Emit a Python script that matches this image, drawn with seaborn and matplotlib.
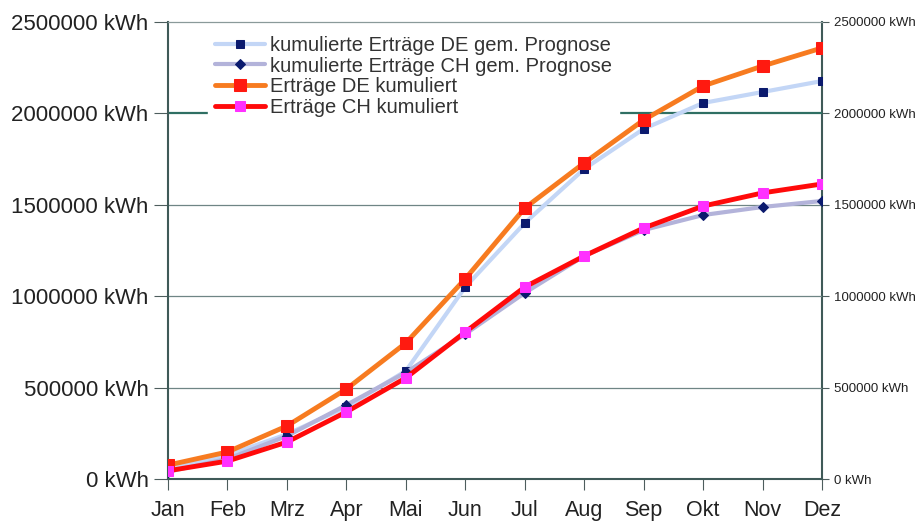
import pandas as pd
import matplotlib
matplotlib.use("Agg")
import matplotlib.pyplot as plt
import seaborn as sns

months = ['Jan', 'Feb', 'Mrz', 'Apr', 'Mai', 'Jun', 'Jul', 'Aug', 'Sep', 'Okt', 'Nov', 'Dez']

de_prognose = [60000, 130000, 245000, 394000, 591000, 1050000, 1400000, 1696000, 1915000, 2057000, 2117000, 2177000]
ch_prognose = [40000, 110000, 235000, 405000, 583000, 793000, 1018000, 1220000, 1362000, 1444000, 1488000, 1521000]
de_ertrag = [76000, 148000, 290000, 492000, 744000, 1095000, 1482000, 1729000, 1964000, 2150000, 2259000, 2358000]
ch_ertrag = [45000, 98000, 202000, 367000, 553000, 804000, 1050000, 1220000, 1373000, 1493000, 1565000, 1614000]

yticks = [0, 500000, 1000000, 1500000, 2000000, 2500000]
ylabels = [f'{v} kWh' for v in yticks]

df = pd.DataFrame({'Monat': months, 'de_prog': de_prognose, 'ch_prog': ch_prognose,
                   'de': de_ertrag, 'ch': ch_ertrag})

sns.set_style('white')
plt.rcParams['font.family'] = ['Liberation Sans', 'DejaVu Sans']

fig = plt.figure(figsize=(9.21, 5.25), dpi=100)
ax = fig.add_axes([0.1824, 0.0876, 0.7101, 0.8705])

grid_col = '#6f8585'
for v in [500000, 1000000, 1500000]:
    ax.axhline(v, color=grid_col, lw=0.9, zorder=0)
ax.axhline(2000000, color='#2f6f63', lw=1.6, zorder=0)

sns.lineplot(data=df, x='Monat', y='de_prog', ax=ax, sort=False, color='#c3d6f6', lw=3,
             marker='s', markersize=6, markerfacecolor='#0b1a6e', markeredgecolor='#0b1a6e',
             label='kumulierte Erträge DE gem. Prognose', zorder=3)
sns.lineplot(data=df, x='Monat', y='ch_prog', ax=ax, sort=False, color='#b3b3da', lw=3,
             marker='D', markersize=5, markerfacecolor='#0b1a6e', markeredgecolor='#0b1a6e',
             label='kumulierte Erträge CH gem. Prognose', zorder=3)
sns.lineplot(data=df, x='Monat', y='de', ax=ax, sort=False, color='#f77b20', lw=3.5,
             marker='s', markersize=9, markerfacecolor='#ff1a10', markeredgecolor='#ff1a10',
             label='Erträge DE kumuliert', zorder=4)
sns.lineplot(data=df, x='Monat', y='ch', ax=ax, sort=False, color='#ff0a0a', lw=3.5,
             marker='s', markersize=6.5, markerfacecolor='#ff30ff', markeredgecolor='#ff30ff',
             label='Erträge CH kumuliert', zorder=4)

ax.set_xlim(0, 11)
ax.set_ylim(0, 2500000)
ax.set_yticks(yticks)
ax.set_yticklabels(ylabels, fontsize=16, color='#222222')
ax.tick_params(axis='x', labelsize=15.5, labelcolor='#222222', length=8, color='#4d5d5d',
               direction='out', bottom=True, pad=7)
ax.tick_params(axis='y', length=10, color='#4d5d5d', direction='out', left=True, pad=4)
ax.set_xlabel('')
ax.set_ylabel('')

for s in ['left', 'bottom']:
    ax.spines[s].set_color('#3f5a58')
    ax.spines[s].set_linewidth(1.5)
ax.spines['top'].set_color('#8a9a9a')
ax.spines['top'].set_linewidth(0.9)
ax.spines['right'].set_visible(False)

ax2 = ax.twinx()
ax2.set_ylim(0, 2500000)
ax2.set_yticks(yticks)
ax2.set_yticklabels(ylabels, fontsize=9.5, color='#222222')
ax2.tick_params(axis='y', length=5, color='#4d5d5d', direction='out', right=True, pad=4)
for s in ['left', 'bottom', 'top']:
    ax2.spines[s].set_visible(False)
ax2.spines['right'].set_color('#3f5a58')
ax2.spines['right'].set_linewidth(1.5)

leg = ax.legend(loc='upper left', bbox_to_anchor=(0.061, 0.985), fontsize=14.5, frameon=True,
                facecolor='white', edgecolor='white', framealpha=1, handlelength=2.5,
                handletextpad=0.25, labelspacing=0.08, borderpad=0.35, borderaxespad=0,
                labelcolor='#333333')
leg.set_zorder(5)
ax.set_zorder(ax2.get_zorder() + 1)
ax.patch.set_visible(False)

fig.savefig('out.png', dpi=100)
